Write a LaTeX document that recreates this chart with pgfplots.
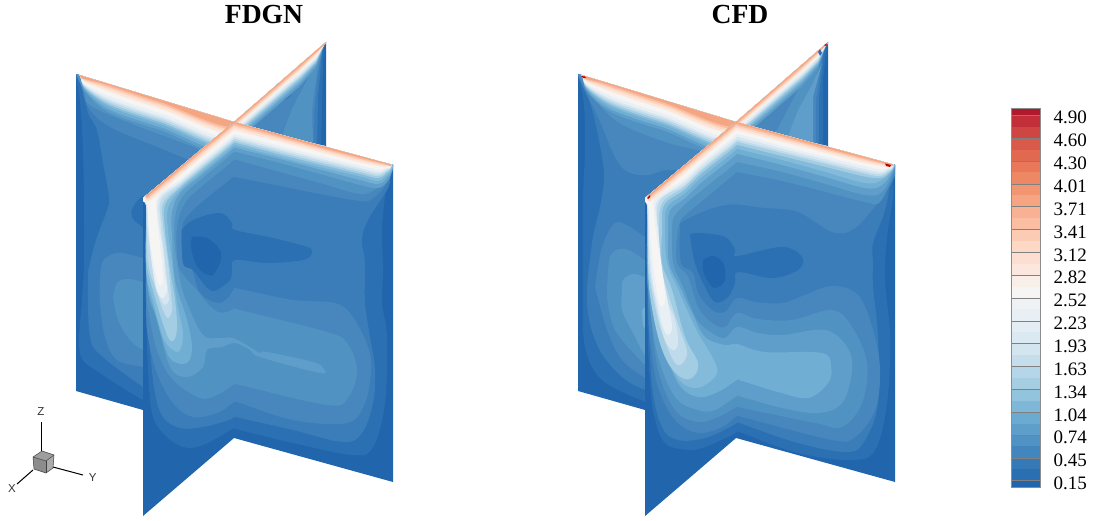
\documentclass[border=0pt]{standalone}
\usepackage{fontspec}
\setmainfont{Liberation Serif}
\newfontfamily\sanf{Liberation Sans}
\usepackage{pgfplots}
\pgfplotsset{compat=1.18}
\definecolor{L0}{HTML}{2166AC}\definecolor{L1}{HTML}{2B70B3}\definecolor{L2}{HTML}{3A7DB9}
\definecolor{L3}{HTML}{4787BD}\definecolor{L4}{HTML}{5092C2}\definecolor{L5}{HTML}{5F9ECA}
\definecolor{L6}{HTML}{70AED3}\definecolor{L7}{HTML}{84BBDA}\definecolor{L8}{HTML}{A2CDE3}
\definecolor{L9}{HTML}{BFDAEB}\definecolor{L10}{HTML}{D5E6F0}\definecolor{L11}{HTML}{E8F0F5}
\definecolor{L12}{HTML}{F6F5F4}\definecolor{L13}{HTML}{FCE6DA}\definecolor{L14}{HTML}{FDD7C3}
\definecolor{L15}{HTML}{FABFA3}\definecolor{L16}{HTML}{F4A582}
\definecolor{C0}{HTML}{2166AC}\definecolor{C1}{HTML}{2A6FB2}\definecolor{C2}{HTML}{357AB7}\definecolor{C3}{HTML}{4286BD}
\definecolor{C4}{HTML}{4F92C3}\definecolor{C5}{HTML}{5E9ECA}\definecolor{C6}{HTML}{6CABD1}\definecolor{C7}{HTML}{7FB7D8}
\definecolor{C8}{HTML}{92C4DE}\definecolor{C9}{HTML}{A5CEE3}\definecolor{C10}{HTML}{B5D5E8}\definecolor{C11}{HTML}{C6DEEC}
\definecolor{C12}{HTML}{D3E5EF}\definecolor{C13}{HTML}{DAE9F2}\definecolor{C14}{HTML}{E3EDF3}\definecolor{C15}{HTML}{E9F0F5}
\definecolor{C16}{HTML}{EFF2F5}\definecolor{C17}{HTML}{F6F5F4}\definecolor{C18}{HTML}{F9EFE9}\definecolor{C19}{HTML}{FBE7DD}
\definecolor{C20}{HTML}{FCDFD0}\definecolor{C21}{HTML}{FDD8C4}\definecolor{C22}{HTML}{FCCBB3}\definecolor{C23}{HTML}{FBBEA3}
\definecolor{C24}{HTML}{F8B193}\definecolor{C25}{HTML}{F5A582}\definecolor{C26}{HTML}{F29672}\definecolor{C27}{HTML}{EE8764}
\definecolor{C28}{HTML}{E87859}\definecolor{C29}{HTML}{E1694F}\definecolor{C30}{HTML}{D95A4A}\definecolor{C31}{HTML}{CE4543}
\definecolor{C32}{HTML}{C22F39}\definecolor{C33}{HTML}{B2182B}
\newcommand{\R}[2]{\addplot[fill=#1,draw=none,smooth,tension=0.6] coordinates {#2};}
\newcommand{\Q}[2]{\addplot[fill=#1,draw=none] coordinates {#2};}
\newcommand{\CB}[3]{\addplot[fill=#3,draw=none] coordinates {(1011,#1)(1040,#1)(1040,#2)(1011,#2)};}
\newcommand{\CL}[1]{\addplot[draw=black!50,line width=0.5pt] coordinates {(1011,#1)(1040,#1)};}
\newcommand{\clipBack}{\clip (axis cs:234,122)--(axis cs:326,42)--(axis cs:326,146)--cycle;}
\newcommand{\clipLeft}{\clip (axis cs:76,74)--(axis cs:234,122)--(axis cs:143,198)--(axis cs:143,410)--(axis cs:76,391)--cycle;}
\newcommand{\clipFront}{\clip (axis cs:143,198)--(axis cs:234,122)--(axis cs:393,165)--(axis cs:393,482)--(axis cs:234,438)--(axis cs:143,516)--cycle;}
\newcommand{\backStripes}{%
\Q{L5}{(232,145)(300,86)(316,67.5)(324,45)(334,36)(232,36)}
\Q{L6}{(232,142)(300,83)(316,65)(324,45)(334,36)(232,36)}
\Q{L7}{(232,140)(300,81)(316,63.5)(324,45)(334,36)(232,36)}
\Q{L8}{(232,138)(300,79)(316,62)(324,45)(334,36)(232,36)}
\Q{L9}{(232,136)(300,77)(316,61)(324,45)(334,36)(232,36)}
\Q{L10}{(232,135)(300,76)(316,59.5)(324,45)(334,36)(232,36)}
\Q{L11}{(232,133)(300,74)(316,58)(324,45)(334,36)(232,36)}
\Q{L12}{(232,131)(300,72)(316,57)(324,45)(334,36)(232,36)}
\Q{L13}{(232,130)(300,71)(316,55.5)(324,45)(334,36)(232,36)}
\Q{L14}{(232,128)(300,69)(316,54.3)(324,45)(334,36)(232,36)}
\Q{L15}{(232,127)(300,68)(316,53)(324,45)(334,36)(232,36)}
\Q{L16}{(232,125)(300,66)(316,52)(324,45)(334,36)(232,36)}
}
\newcommand{\leftStripes}{%
\R{L5}{(70,60)(80,76)(84,90)(100,106.5)(120,117)(160,130)(240,154)(240,60)}
\R{L6}{(70,60)(80,76)(84,88.8)(100,104)(120,114)(160,127)(240,151)(240,60)}
\R{L7}{(70,60)(80,76)(84,87.6)(100,101.4)(120,111)(160,124)(240,148)(240,60)}
\R{L8}{(70,60)(80,76)(84,86.8)(100,99.7)(120,109)(160,122)(240,146)(240,60)}
\R{L9}{(70,60)(80,76)(84,86)(100,98)(120,107)(160,120)(240,144)(240,60)}
\R{L10}{(70,60)(80,76)(84,85.2)(100,96.3)(120,105)(160,118)(240,142)(240,60)}
\R{L11}{(70,60)(80,76)(84,84.4)(100,94.6)(120,103)(160,116)(240,140)(240,60)}
\R{L12}{(70,60)(80,76)(84,83.2)(100,92)(120,100)(160,113)(240,137)(240,60)}
\R{L13}{(70,60)(80,76)(84,81.4)(100,88.2)(120,95.5)(160,108.5)(240,132.5)(240,60)}
\R{L14}{(70,60)(80,76)(84,80.4)(100,86.1)(120,93)(160,106)(240,130)(240,60)}
\R{L15}{(70,60)(80,76)(84,79.6)(100,84.4)(120,91)(160,104)(240,128)(240,60)}
\R{L16}{(70,60)(80,76)(84,78.8)(100,82.7)(120,89)(160,102)(240,126)(240,60)}
}
\newcommand{\frontStripes}{%
\Q{L13}{(398,150)(391,166)(384,167)(360,162.5)(320,152)(234,130)(152,199)(147,202)(140,190)(140,110)(398,110)}
\Q{L14}{(398,150)(391,166)(384,165.5)(360,160.5)(320,150)(234,127.5)(152,196.5)(147,200)(140,190)(140,110)(398,110)}
\Q{L15}{(398,150)(391,166)(384,164.5)(360,159)(320,148.5)(234,125.5)(152,194.5)(147,198.5)(140,190)(140,110)(398,110)}
\Q{L16}{(398,150)(391,166)(384,163.6)(360,157.5)(320,147)(234,123.5)(152,192.5)(147,197)(140,190)(140,110)(398,110)}
}
\begin{document}
\begin{tikzpicture}
\useasboundingbox (0,0) rectangle (1094pt,521pt);
\pgfplotsset{panel/.style={width=1094pt,height=521pt,scale only axis,ymin=0,ymax=521,y dir=reverse,hide axis,clip=false,at={(0,0)},anchor=south west}}
%% ---------- FDGN panel and shared items
\begin{axis}[panel,xmin=0,xmax=1094]
\begin{scope}\clipBack
\Q{L0}{(225,30)(330,30)(330,150)(225,150)}
\Q{L1}{(321,150)(323,63)(325,40)(225,40)(225,150)}
\Q{L2}{(317,150)(318,97)(322,53)(225,40)(225,150)}
\Q{L3}{(313,150)(314,113)(318,73)(322,52)(225,40)(225,150)}
\R{L4}{(282,136)(293,107)(307,80)(320,50)(322,52)(317,73)(312,113)(311,150)(282,150)(282,136)}
\Q{L2}{(284,99)(292,93)(290,97)(285,100)}
\Q{L2}{(295,86)(300,80)(297,85)(295,87)}
\backStripes
\end{scope}
\begin{scope}\clipLeft
\Q{L0}{(70,60)(240,60)(240,420)(70,420)}
\R{L1}{(70,60)(78,87)(82,130)(84,197)(84,263)(82,300)(80,353)(100,373)(143,400)(150,402)(150,60)}
\R{L2}{(78,60)(84,90)(88,113)(97,130)(103,163)(109,197)(107,210)(97,237)(90,263)(88,280)(90,337)(103,357)(143,387)(150,390)(240,300)(240,60)}
\R{L3}{(100,280)(102,263)(110,255)(122,253)(143,258)(155,262)(155,370)(143,367)(117,360)(105,337)(100,303)(100,280)}
\R{L4}{(113,297)(117,283)(128,279)(143,282)(155,285)(155,352)(143,350)(130,340)(118,320)(113,297)}
\R{L1}{(155,195)(143,196)(133,207)(132,217)(140,225)(150,230)(155,195)}
\R{L3}{(70,60)(81,85)(88,107)(110,127)(160,148)(190,160)(240,177)(240,60)}
\R{L4}{(70,60)(84,92)(90,105)(127,122)(194,147)(240,165)(240,60)}
\leftStripes
\end{scope}
\begin{scope}\clipFront
\Q{L0}{(140,110)(398,110)(398,520)(140,520)}
\R{L1}{(398,150)(390,170)(385,197)(382,230)(383,270)(382,303)(387,337)(385,403)(373,447)(353,455)(293,443)(240,430)(234,428)(229,431)(203,445)(183,447)(163,433)(152,413)(148,370)(146,300)(146,205)(140,190)(140,110)(398,110)}
\R{L2}{(398,150)(391,172)(388,188)(368,220)(362,240)(365,263)(365,303)(370,337)(375,370)(373,403)(362,433)(343,442)(293,430)(240,418)(234,417)(229,420)(203,427)(180,428)(163,417)(155,393)(150,350)(147,300)(146,205)(140,190)(140,110)(398,110)}
\R{L3}{(398,150)(391,172)(385,186)(372,199)(360,201)(320,194)(280,186)(240,178)(234,177)(228,181)(193,210)(182,227)(183,257)(192,270)(200,293)(217,303)(228,298)(234,289)(240,289)(293,300)(335,303)(353,317)(368,347)(371,370)(365,403)(347,423)(293,420)(240,403)(235,402)(230,405)(217,413)(193,417)(173,403)(157,373)(148,337)(146,303)(146,205)(140,190)(140,110)(398,110)}
\R{L4}{(398,150)(391,170)(388,177)(377,188)(360,194)(320,183)(280,172)(240,161)(234,160)(228,165)(200,188)(185,203)(177,227)(178,263)(185,277)(197,290)(207,303)(218,312)(227,312)(234,309)(240,310)(327,332)(347,343)(357,370)(348,398)(327,405)(240,385)(235,384)(217,395)(200,398)(173,380)(158,353)(150,320)(146,287)(146,205)(140,190)(140,110)(398,110)}
\R{L5}{(398,150)(392,172)(387,182)(378,188)(360,185)(320,174)(280,163)(240,153)(234,152)(228,157)(200,180)(182,197)(175,217)(175,247)(180,280)(187,303)(203,335)(220,338)(233,338)(250,347)(260,353)(267,352)(313,362)(323,368)(320,373)(260,357)(250,350)(235,343)(222,347)(207,350)(203,367)(187,377)(170,367)(157,320)(148,290)(146,205)(140,190)(140,110)(398,110)}
\R{L6}{(398,150)(392,170)(387,178)(378,184)(360,180)(320,169.5)(280,159)(240,149)(234,148)(228,153)(200,176)(180,193)(172,212)(172,237)(175,280)(187,320)(192,347)(188,362)(177,363)(167,353)(155,313)(147,280)(146,205)(140,190)(140,110)(398,110)}
\R{L7}{(398,150)(392,169)(387,175)(378,181)(360,176.5)(320,167)(280,157)(240,146.5)(234,145.5)(228,150.5)(200,173.5)(180,190.5)(168,208)(168,230)(172,263)(177,303)(183,333)(180,350)(173,350)(163,337)(152,297)(146,270)(146,205)(140,190)(140,110)(398,110)}
\R{L8}{(398,150)(391,168)(387,173)(378,178)(360,174)(320,164.5)(280,154.5)(240,144)(234,143)(228,148)(200,171)(180,188)(165,205)(165,230)(170,270)(175,300)(177,327)(174,340)(167,335)(152,287)(146,257)(146,205)(140,190)(140,110)(398,110)}
\R{L9}{(398,150)(391,167.5)(387,171)(378,176)(360,172)(320,162.5)(280,152.5)(240,142)(234,141)(228,146)(200,169)(180,186)(163,203)(163,225)(168,262)(171,295)(172,310)(168,318)(163,310)(155,287)(148,260)(146,205)(140,190)(140,110)(398,110)}
\R{L10}{(398,150)(391,167)(387,170)(378,174)(360,170)(320,160.5)(280,150.5)(240,140)(234,139)(228,144)(200,167)(180,184)(161,200)(161,225)(165,262)(168,290)(169,300)(165,305)(160,298)(155,280)(150,250)(147,225)(146,205)(140,190)(140,110)(398,110)}
\R{L11}{(398,150)(391,166)(386,169)(378,172)(360,168)(320,158.5)(280,148.5)(240,138)(234,137)(228,142)(200,165)(180,182)(159,199)(159,225)(163,250)(165,275)(167,290)(163,298)(157,291)(152,265)(149,235)(147,205)(140,190)(140,110)(398,110)}
\R{L12}{(398,150)(391,166)(386,168)(378,169.5)(360,165.5)(320,156)(280,146)(240,135.5)(234,134.5)(228,139.5)(200,162.5)(180,179.5)(158,196)(157,218)(160,245)(162,265)(163,280)(159,285)(154,265)(150,240)(148,215)(147,204)(140,190)(140,110)(398,110)}
\frontStripes
\R{L1}{(182,230)(193,220)(220,213)(232,223)(235,230)(273,238)(307,247)(312,253)(303,260)(267,263)(235,260)(232,270)(230,280)(217,290)(210,290)(203,283)(193,270)(183,263)(182,230)}
\R{L0}{(192,237)(207,238)(220,250)(220,263)(213,275)(210,275)(202,272)(195,262)(191,247)(192,237)}
\end{scope}
%% triad
\Q{black!38}{(33,457)(42,451)(54,455)(46,461)}
\Q{black!45}{(33,457)(46,461)(46,473)(34,469)}
\Q{black!33}{(46,461)(54,455)(53,468)(46,473)}
\addplot[draw=black!75,line width=0.5pt] coordinates {(33,457)(42,451)(54,455)(53,468)(46,473)(34,469)(33,457)};
\addplot[draw=black!75,line width=0.5pt] coordinates {(33,457)(46,461)(54,455)};
\addplot[draw=black!75,line width=0.5pt] coordinates {(46,461)(46,473)};
\addplot[draw=black,line width=1pt] coordinates {(41,422)(41,451)};
\addplot[draw=black,line width=1pt] coordinates {(53,467)(83,475)};
\addplot[draw=black,line width=1pt] coordinates {(33,470)(17,484)};
\node[font=\sanf\fontsize{11.5}{12}\selectfont,text=black!80] at (axis cs:41,412) {Z};
\node[font=\sanf\fontsize{11.5}{12}\selectfont,text=black!80] at (axis cs:92.7,478) {Y};
\node[font=\sanf\fontsize{11.5}{12}\selectfont,text=black!80] at (axis cs:12,489) {X};
%% titles
\node[font=\bfseries\fontsize{27.6}{28}\selectfont,anchor=base] at (axis cs:264,23.3) {FDGN};
\node[font=\bfseries\fontsize{27.6}{28}\selectfont,anchor=base] at (axis cs:740,23.3) {CFD};
%% colour bar
\CB{487.3}{480.7}{C0}\CB{480.7}{469.3}{C1}\CB{469.3}{457.9}{C2}\CB{457.9}{446.4}{C3}
\CB{446.4}{435}{C4}\CB{435}{423.6}{C5}\CB{423.6}{412.2}{C6}\CB{412.2}{400.8}{C7}
\CB{400.8}{389.3}{C8}\CB{389.3}{377.9}{C9}\CB{377.9}{366.5}{C10}\CB{366.5}{355.1}{C11}
\CB{355.1}{343.7}{C12}\CB{343.7}{332.2}{C13}\CB{332.2}{320.8}{C14}\CB{320.8}{309.4}{C15}
\CB{309.4}{298}{C16}\CB{298}{286.6}{C17}\CB{286.6}{275.2}{C18}\CB{275.2}{263.8}{C19}
\CB{263.8}{252.3}{C20}\CB{252.3}{240.9}{C21}\CB{240.9}{229.5}{C22}\CB{229.5}{218.1}{C23}
\CB{218.1}{206.7}{C24}\CB{206.7}{195.3}{C25}\CB{195.3}{183.8}{C26}\CB{183.8}{172.4}{C27}
\CB{172.4}{161}{C28}\CB{161}{149.6}{C29}\CB{149.6}{138.2}{C30}\CB{138.2}{126.8}{C31}
\CB{126.8}{115.3}{C32}\CB{115.3}{108.3}{C33}
\CL{480.7}\CL{457.9}\CL{435}\CL{412.2}\CL{389.3}\CL{366.5}\CL{343.7}\CL{320.8}\CL{298}\CL{275.2}\CL{252.3}\CL{229.5}\CL{206.7}\CL{183.8}\CL{161}\CL{138.2}\CL{115.3}
\addplot[draw=black!45,line width=0.5pt] coordinates {(1011,108.3)(1040,108.3)(1040,487.3)(1011,487.3)(1011,108.3)};
\begin{scope}[every node/.style={font=\fontsize{19}{20}\selectfont,anchor=west}]
\node at (axis cs:1050,117.7) {4.90};\node at (axis cs:1050,140.6) {4.60};\node at (axis cs:1050,163.5) {4.30};\node at (axis cs:1050,186.3) {4.01};
\node at (axis cs:1050,209.2) {3.71};\node at (axis cs:1050,232) {3.41};\node at (axis cs:1050,254.9) {3.12};\node at (axis cs:1050,277.8) {2.82};
\node at (axis cs:1050,300.7) {2.52};\node at (axis cs:1050,323.5) {2.23};\node at (axis cs:1050,346.4) {1.93};\node at (axis cs:1050,369.2) {1.63};
\node at (axis cs:1050,392.1) {1.34};\node at (axis cs:1050,415) {1.04};\node at (axis cs:1050,437.8) {0.74};\node at (axis cs:1050,460.7) {0.45};
\node at (axis cs:1050,483.6) {0.15};
\end{scope}
\end{axis}
%% ---------- CFD panel, drawn in the same local frame (shifted by 502)
\begin{axis}[panel,xmin=-502,xmax=592]
\begin{scope}\clipBack
\Q{L0}{(225,30)(330,30)(330,150)(225,150)}
\Q{L1}{(321,150)(321,80)(325,40)(225,40)(225,150)}
\Q{L2}{(317,150)(317,97)(322,50)(225,40)(225,150)}
\Q{L3}{(314,150)(314,100)(321,50)(225,40)(225,150)}
\Q{L4}{(311,150)(311,97)(318,60)(320,48)(296,90)(276,128)(260,150)}
\Q{L5}{(286,136)(296,110)(310,85)(320,63)(311,97)(311,150)(286,150)}
\backStripes
\Q{L1}{(316,52)(318,49)(320,53)(318,56)}
\Q{red!75!black}{(322,45)(324.5,42.5)(324.5,45)(323,46)}
\end{scope}
\begin{scope}\clipLeft
\Q{L0}{(70,60)(240,60)(240,420)(70,420)}
\R{L1}{(70,60)(81,97)(83,147)(81,197)(81,263)(81,300)(83,347)(100,380)(143,402)(150,404)(150,60)}
\R{L2}{(78,60)(84,90)(92,117)(100,157)(102,180)(98,207)(90,243)(85,303)(96,347)(120,377)(143,390)(150,392)(240,300)(240,60)}
\R{L3}{(93,287)(100,247)(113,223)(128,227)(143,237)(155,242)(155,385)(143,378)(120,360)(105,330)(93,287)}
\R{L4}{(105,297)(108,257)(123,249)(143,260)(155,264)(155,372)(143,365)(113,330)(105,297)}
\R{L5}{(120,290)(121,280)(131,274)(143,277)(155,280)(155,362)(143,355)(131,333)(120,310)(120,290)}
\R{L6}{(140,310)(143,307)(150,306)(150,332)(143,328)(141,325)(140,310)}
\R{L3}{(70,60)(81,87)(96,117)(113,157)(126,172)(146,175)(166,170)(200,175)(240,190)(240,60)}
\R{L4}{(70,60)(83,85)(113,120)(163,142)(203,152)(240,165)(240,60)}
\leftStripes
\Q{red!75!black}{(79,76)(83,76.5)(84,78)(81,78)}
\end{scope}
\begin{scope}\clipFront
\Q{L0}{(140,110)(398,110)(398,520)(140,520)}
\R{L1}{(398,150)(391,172)(391,197)(385,237)(383,280)(388,337)(385,403)(373,450)(350,460)(296,453)(240,433)(235,432)(230,435)(203,447)(186,450)(163,443)(152,415)(147,370)(145,300)(145,205)(140,190)(140,110)(398,110)}
\R{L2}{(398,150)(391,170)(383,210)(371,243)(371,263)(371,287)(376,337)(376,403)(363,440)(346,452)(296,443)(240,424)(235,423)(230,426)(203,438)(176,440)(160,427)(150,385)(146,300)(145,205)(140,190)(140,110)(398,110)}
\R{L3}{(398,150)(391,180)(370,210)(350,230)(330,232)(296,212)(263,208)(223,205)(183,220)(178,230)(179,263)(191,273)(196,293)(210,310)(223,312)(235,298)(253,302)(280,303)(303,295)(330,286)(356,295)(371,330)(378,370)(373,410)(353,437)(330,440)(240,417)(235,416)(220,427)(196,433)(173,420)(156,387)(148,340)(146,300)(145,205)(140,190)(140,110)(398,110)}
\R{L4}{(398,150)(391,175)(378,202)(363,202)(320,191)(280,181)(240,173)(235,172)(229,177)(200,201)(182,216)(178,222)(175,235)(175,263)(186,277)(196,307)(210,323)(223,327)(235,313)(256,319)(290,320)(330,310)(350,327)(365,363)(360,403)(340,427)(313,423)(240,408)(235,407)(216,417)(196,422)(173,410)(156,370)(148,310)(145,270)(145,205)(140,190)(140,110)(398,110)}
\R{L5}{(398,150)(391,172)(380,192)(363,195)(320,183)(280,172)(240,163)(235,162)(229,167)(200,190)(182,205)(172,217)(170,230)(171,263)(181,287)(195,320)(210,333)(223,338)(235,327)(256,333)(280,335)(323,330)(345,347)(350,370)(340,403)(316,413)(280,408)(240,397)(235,396)(213,410)(196,410)(173,397)(155,353)(147,297)(145,270)(145,205)(140,190)(140,110)(398,110)}
\R{L6}{(398,150)(391,170)(380,185)(363,188)(320,176)(280,165)(240,155)(235,154)(229,159)(200,182)(182,199)(168,210)(166,230)(167,263)(178,287)(190,313)(203,337)(223,345)(235,344)(263,352)(320,353)(329,367)(326,383)(306,398)(276,392)(240,381)(235,380)(216,392)(196,397)(176,383)(158,337)(148,290)(145,260)(145,205)(140,190)(140,110)(398,110)}
\R{L7}{(398,150)(391,168)(380,180)(363,183)(320,171)(280,160)(240,150)(235,149)(229,154)(200,177)(182,194)(165,207)(163,230)(165,263)(175,287)(185,310)(196,333)(215,368)(206,383)(191,388)(175,377)(160,343)(149,290)(146,250)(145,205)(140,190)(140,110)(398,110)}
\R{L8}{(398,150)(391,168)(387,173)(378,178)(360,176)(320,166)(280,156)(240,146)(235,145)(229,150)(200,173)(182,190)(162,205)(160,230)(160,263)(170,290)(183,337)(196,363)(191,377)(180,378)(166,363)(155,333)(147,287)(146,245)(145,205)(140,190)(140,110)(398,110)}
\R{L9}{(398,150)(391,167.5)(387,171)(378,176)(360,173)(320,163)(280,153)(240,143)(235,142)(229,147)(200,170)(182,187)(160,203)(157,230)(158,263)(168,300)(178,330)(185,353)(178,365)(170,358)(158,327)(149,287)(146,260)(145,205)(140,190)(140,110)(398,110)}
\R{L10}{(398,150)(391,167)(387,170)(378,174)(360,171)(320,161)(280,151)(240,141)(235,140)(229,145)(200,168)(182,185)(158,200)(155,225)(156,263)(165,300)(173,320)(176,343)(171,350)(163,340)(155,310)(148,270)(146,225)(145,205)(140,190)(140,110)(398,110)}
\R{L11}{(398,150)(391,166)(386,169)(378,172)(360,168.5)(320,158.5)(280,148.5)(240,138)(235,137)(229,142)(200,165)(182,182)(156,200)(154,215)(156,230)(160,270)(166,303)(170,327)(166,335)(161,327)(156,307)(150,277)(147,240)(146,205)(140,190)(140,110)(398,110)}
\R{L12}{(398,150)(391,166)(386,168)(378,169.5)(360,165.5)(320,156)(280,146)(240,135)(235,134)(229,139)(200,162)(182,179)(154,198)(152,212)(155,240)(160,270)(163,300)(158,305)(153,280)(149,245)(147,215)(146,205)(140,190)(140,110)(398,110)}
\frontStripes
\R{L1}{(188,235)(196,233)(223,237)(233,250)(235,256)(280,247)(300,257)(296,270)(270,278)(236,272)(233,283)(226,297)(213,302)(201,283)(192,260)(188,235)}
\R{L0}{(201,260)(211,256)(221,263)(223,280)(213,288)(205,280)(201,270)(201,260)}
\Q{red!75!black}{(383,163.5)(389,165)(388,167)(384,166)}
\Q{red!75!black}{(145,198)(148,195)(148,197)(146,199)}
\end{scope}
\end{axis}
\end{tikzpicture}
\end{document}
